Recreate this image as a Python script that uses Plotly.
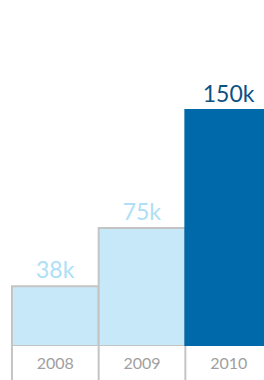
import plotly.graph_objects as go

years = ["2008", "2009", "2010"]
values = [38, 75, 150]
labels = ["38k", "75k", "150k"]
bar_colors = ["#c6e8f9", "#c6e8f9", "#0069aa"]
line_colors = ["#c4c4c4", "#c4c4c4", "#0069aa"]
text_colors = ["#ade0f6", "#ade0f6", "#0b5283"]

fig = go.Figure()
fig.add_trace(go.Bar(
    x=list(range(len(years))), y=values, width=1,
    marker=dict(color=bar_colors, line=dict(color=line_colors, width=2)),
    text=labels, textposition="outside", cliponaxis=False,
    textfont=dict(family="Lato, Open Sans, sans-serif", size=23, color=text_colors),
    hoverinfo="skip",
))

shapes = []
for i in range(len(years)):
    shapes.append(dict(type="line", xref="x", yref="paper", x0=i - 0.5, x1=i - 0.5,
                       y0=0, y1=-34 / 346, line=dict(color="#c4c4c4", width=2)))
fig.update_layout(
    width=264, height=380,
    margin=dict(l=0, r=0, t=0, b=34),
    paper_bgcolor="white", plot_bgcolor="white",
    showlegend=False, shapes=shapes,
    xaxis=dict(range=[-0.638, 2.407], tickmode="array",
               tickvals=list(range(len(years))), ticktext=years,
               showgrid=False, zeroline=False, showline=False, ticks="",
               ticklabelstandoff=6,
               tickfont=dict(family="Lato, Open Sans, sans-serif", size=16, color="#a0a0a0")),
    yaxis=dict(range=[0, 220], visible=False),
    bargap=0,
)
fig.write_html("out.html", config={"displayModeBar": False, "staticPlot": True},
               post_script="document.body.style.margin='0';document.body.style.overflow='hidden';")
